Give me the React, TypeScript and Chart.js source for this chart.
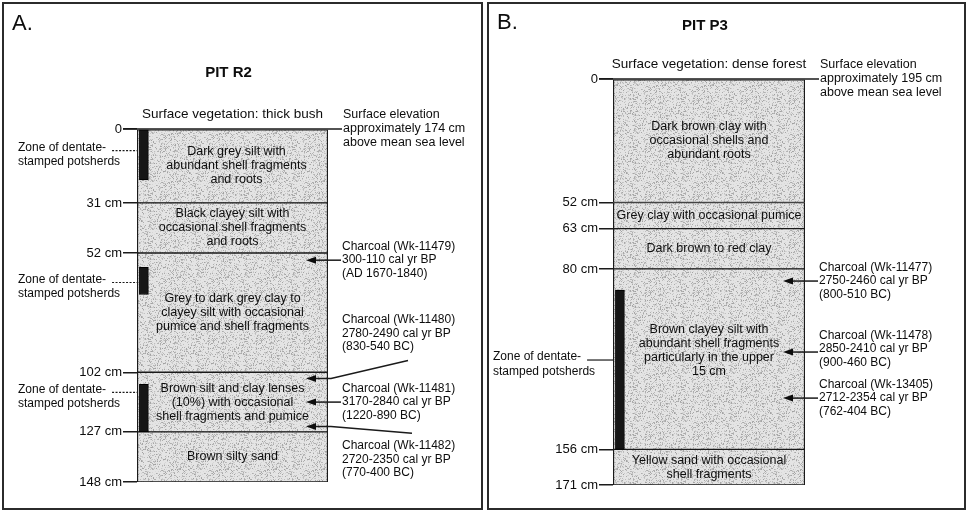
import React, { useEffect, useRef } from 'react';
import { Chart, registerables } from 'chart.js';

Chart.register(...registerables);

const FONT = '"Liberation Sans", Arial, Helvetica, sans-serif';
Chart.defaults.font.family = FONT;

// ---------------- Panel A : Pit R2 ----------------
const pitA = 'PIT R2';
const vegetationA = 'thick bush';
const elevationA = 174;
const boundariesA = [0, 31, 52, 102, 127, 148];
const layerTextA = [
  'Dark grey silt with\nabundant shell fragments\nand roots',
  'Black clayey silt with\noccasional shell fragments\nand roots',
  'Grey to dark grey clay to\nclayey silt with occasional\npumice and shell fragments',
  'Brown silt and clay lenses\n(10%) with occasional\nshell fragments and pumice',
  'Brown silty sand',
];
const potsherdTopA = [0, 58, 107];
const potsherdBottomA = [21.4, 69.4, 127];
const sampleIdA = ['Wk-11479', 'Wk-11480', 'Wk-11481', 'Wk-11482'];
const calBPA = ['300-110', '2780-2490', '3170-2840', '2720-2350'];
const calendarA = ['AD 1670-1840', '830-540 BC', '1220-890 BC', '770-400 BC'];
const sampleDepthA = [55, 104.6, 114.5, 124.7];

// ---------------- Panel B : Pit P3 ----------------
const pitB = 'PIT P3';
const vegetationB = 'dense forest';
const elevationB = 195;
const boundariesB = [0, 52, 63, 80, 156, 171];
const layerTextB = [
  'Dark brown clay with\noccasional shells and\nabundant roots',
  'Grey clay with occasional pumice',
  'Dark brown to red clay',
  'Brown clayey silt with\nabundant shell fragments\nparticularly in the upper\n15 cm',
  'Yellow sand with occasional\nshell fragments',
];
const potsherdTopB = [88.9];
const potsherdBottomB = [156];
const sampleIdB = ['Wk-11477', 'Wk-11478', 'Wk-13405'];
const calBPB = ['2750-2460', '2850-2410', '2712-2354'];
const calendarB = ['800-510 BC', '900-460 BC', '762-404 BC'];
const sampleDepthB = [85.1, 115, 134.4];

// ---------------- layout / style (not data) ----------------
const ZONE_X = 3.6; // position of potsherd strip inside column (% of width)

const layoutA = {
  width: 485,
  left: 0,
  padding: { left: 17, right: 157, top: 129, bottom: 30 },
  frame: [3, 3, 479, 506],
  letter: 'A.',
  letterPos: [12, 30],
  titleY: 73,
  textShift: [0, 0, 0, 0, 0],
  textDx: [4, 0, 0, 0, 0],
  zoneLabelDepth: [7.8, 63.1, 109.2],
  zoneLabelInset: 119,
  dashedLeader: true,
  sampleTextDepth: [null, 85.7, null, 138.6] as (number | null)[],
  sampleTail: [null, { dx: 80, depth: 97.1 }, null, { dx: 84, depth: 127.6 }] as ({ dx: number; depth: number } | null)[],
};

const layoutB = {
  width: 486,
  left: 485,
  padding: { left: 8, right: 166, top: 79, bottom: 27 },
  frame: [3, 3, 477, 506],
  letter: 'B.',
  letterPos: [12, 29],
  titleY: 26,
  textShift: [0, 0, 0, -9, 0],
  textDx: [0, 0, 0, 0, 0],
  zoneLabelDepth: [117.1],
  zoneLabelInset: 120,
  dashedLeader: false,
  sampleTextDepth: [null, 113.7, null] as (number | null)[],
  sampleTail: [null, null, null] as ({ dx: number; depth: number } | null)[],
};

type Panel = {
  key: string;
  pit: string;
  vegetation: string;
  elevation: number;
  boundaries: number[];
  layerText: string[];
  zoneTop: number[];
  zoneBottom: number[];
  sampleId: string[];
  calBP: string[];
  calendar: string[];
  sampleDepth: number[];
  layout: typeof layoutA;
};

const panelA: Panel = {
  key: 'A', pit: pitA, vegetation: vegetationA, elevation: elevationA,
  boundaries: boundariesA, layerText: layerTextA,
  zoneTop: potsherdTopA, zoneBottom: potsherdBottomA,
  sampleId: sampleIdA, calBP: calBPA, calendar: calendarA, sampleDepth: sampleDepthA,
  layout: layoutA,
};
const panelB: Panel = {
  key: 'B', pit: pitB, vegetation: vegetationB, elevation: elevationB,
  boundaries: boundariesB, layerText: layerTextB,
  zoneTop: potsherdTopB, zoneBottom: potsherdBottomB,
  sampleId: sampleIdB, calBP: calBPB, calendar: calendarB, sampleDepth: sampleDepthB,
  layout: layoutB,
};

function makeSpeckle(): CanvasPattern | string {
  const c = document.createElement('canvas');
  c.width = 48;
  c.height = 48;
  const g = c.getContext('2d');
  if (!g) return '#dcdcdc';
  g.fillStyle = '#e4e4e4';
  g.fillRect(0, 0, 48, 48);
  let s = 987654321;
  const next = () => {
    s = (s * 1103515245 + 12345) % 2147483648;
    return s / 2147483648;
  };
  for (let i = 0; i < 900; i++) {
    const x = Math.floor(next() * 48);
    const y = Math.floor(next() * 48);
    const v = 160 + Math.floor(next() * 60);
    g.fillStyle = `rgb(${v},${v},${v})`;
    g.fillRect(x, y, 1, 1);
  }
  return g.createPattern(c, 'repeat') || '#dcdcdc';
}

function decorPlugin(p: Panel) {
  const L = p.layout;
  return {
    id: 'decor' + p.key,
    beforeDraw(chart: any) {
      const ctx = chart.ctx as CanvasRenderingContext2D;
      const ca = chart.chartArea;
      const cx = (ca.left + ca.right) / 2;
      ctx.save();
      ctx.fillStyle = '#ffffff';
      ctx.fillRect(0, 0, chart.width, chart.height);
      ctx.strokeStyle = '#2b2b2b';
      ctx.lineWidth = 2;
      ctx.strokeRect(L.frame[0], L.frame[1], L.frame[2], L.frame[3]);
      ctx.fillStyle = '#0d0d0d';
      ctx.font = `22px ${FONT}`;
      ctx.textAlign = 'left';
      ctx.textBaseline = 'alphabetic';
      ctx.fillText(L.letter, L.letterPos[0], L.letterPos[1]);
      ctx.font = `bold 15px ${FONT}`;
      ctx.textAlign = 'center';
      ctx.textBaseline = 'middle';
      ctx.fillText(p.pit, cx - 4, L.titleY);
      ctx.restore();
    },
    afterDatasetsDraw(chart: any) {
      const ctx = chart.ctx as CanvasRenderingContext2D;
      const ys = chart.scales.y;
      const ca = chart.chartArea;
      const cx = (ca.left + ca.right) / 2;
      const y0 = ys.getPixelForValue(0);
      ctx.save();
      ctx.strokeStyle = '#1a1a1a';
      ctx.fillStyle = '#0d0d0d';
      ctx.lineWidth = 1.5;
      // surface line
      ctx.beginPath();
      ctx.moveTo(ca.left - 14, y0);
      ctx.lineTo(ca.right + 14, y0);
      ctx.stroke();
      ctx.textBaseline = 'middle';
      ctx.textAlign = 'center';
      ctx.font = `13.5px ${FONT}`;
      ctx.fillText(`Surface vegetation: ${p.vegetation}`, cx, y0 - 15);
      ctx.textAlign = 'left';
      ctx.font = `12.5px ${FONT}`;
      const ex = ca.right + 15;
      ['Surface elevation', `approximately ${p.elevation} cm`, 'above mean sea level'].forEach((t, i) =>
        ctx.fillText(t, ex, y0 + (i - 1) * 14)
      );
      // layer descriptions
      ctx.textAlign = 'center';
      p.layerText.forEach((txt, i) => {
        const yt = ys.getPixelForValue(p.boundaries[i]);
        const yb = ys.getPixelForValue(p.boundaries[i + 1]);
        const lines = txt.split('\n');
        const mid = (yt + yb) / 2 + (L.textShift[i] || 0);
        lines.forEach((l, j) =>
          ctx.fillText(l, cx + (L.textDx[i] || 0), mid + (j - (lines.length - 1) / 2) * 14)
        );
      });
      // potsherd zone labels
      ctx.textAlign = 'left';
      ctx.font = `12px ${FONT}`;
      p.zoneTop.forEach((_, i) => {
        const fy = ys.getPixelForValue(L.zoneLabelDepth[i]);
        const lx = ca.left - L.zoneLabelInset;
        ctx.fillText('Zone of dentate-', lx, fy);
        ctx.fillText('stamped potsherds', lx, fy + 14.5);
        const w = ctx.measureText('Zone of dentate-').width;
        ctx.save();
        ctx.lineWidth = 1.2;
        if (L.dashedLeader) ctx.setLineDash([2, 1.5]);
        ctx.beginPath();
        ctx.moveTo(lx + w + 6, fy + 3);
        ctx.lineTo(ca.left, fy + 3);
        ctx.stroke();
        ctx.restore();
      });
      // charcoal samples
      p.sampleId.forEach((id, i) => {
        const tipY = ys.getPixelForValue(p.sampleDepth[i]);
        const tipX = ca.right - 22;
        const tx = ca.right + 14;
        const td = L.sampleTextDepth[i];
        const midY = td == null ? tipY : ys.getPixelForValue(td);
        [`Charcoal (${id})`, `${p.calBP[i]} cal yr BP`, `(${p.calendar[i]})`].forEach((t, j) =>
          ctx.fillText(t, tx, midY + (j - 1) * 13.5)
        );
        const tail = L.sampleTail[i];
        ctx.beginPath();
        ctx.moveTo(tipX + 8, tipY);
        if (tail) {
          ctx.lineTo(ca.right + 3, tipY);
          ctx.lineTo(ca.right + tail.dx, ys.getPixelForValue(tail.depth));
        } else {
          ctx.lineTo(tx - 1, tipY);
        }
        ctx.stroke();
        ctx.beginPath();
        ctx.moveTo(tipX, tipY);
        ctx.lineTo(tipX + 10, tipY - 3.5);
        ctx.lineTo(tipX + 10, tipY + 3.5);
        ctx.closePath();
        ctx.fill();
      });
      ctx.restore();
    },
  };
}

function buildConfig(p: Panel, pattern: CanvasPattern | string): any {
  const maxDepth = p.boundaries[p.boundaries.length - 1];
  return {
    type: 'bar',
    data: {
      labels: [p.pit],
      datasets: [
        {
          label: 'Zone of dentate-stamped potsherds',
          xAxisID: 'x2',
          order: 0,
          grouped: false,
          data: p.zoneTop.map((t, i) => ({ x: ZONE_X, y: [t, p.zoneBottom[i]] })),
          backgroundColor: '#161616',
          borderColor: '#000',
          borderWidth: 1,
          borderSkipped: false,
          barThickness: 9,
        },
        {
          label: 'Layers',
          xAxisID: 'x',
          order: 1,
          grouped: false,
          data: p.boundaries.slice(0, -1).map((t, i) => ({ x: p.pit, y: [t, p.boundaries[i + 1]] })),
          backgroundColor: pattern,
          borderColor: '#1a1a1a',
          borderWidth: { top: 1, bottom: 1, left: 1.5, right: 1.5 },
          borderSkipped: false,
          barPercentage: 1,
          categoryPercentage: 1,
        },
      ],
    },
    options: {
      responsive: false,
      animation: false,
      devicePixelRatio: 1,
      events: [],
      layout: { padding: p.layout.padding },
      plugins: {
        legend: { display: false },
        tooltip: { enabled: false },
        title: { display: false },
      },
      scales: {
        x: { type: 'category', display: false, offset: true },
        x2: { type: 'linear', display: false, min: 0, max: 100, offset: false },
        y: {
          type: 'linear',
          reverse: true,
          min: 0,
          max: maxDepth,
          afterBuildTicks: (s: any) => {
            s.ticks = p.boundaries.map((v) => ({ value: v }));
          },
          afterFit: (s: any) => {
            s.width = 120;
          },
          ticks: {
            autoSkip: false,
            padding: 1,
            color: '#0d0d0d',
            font: { family: FONT, size: 13 },
            callback: (v: any) => (Number(v) === 0 ? '0' : `${v} cm`),
          },
          grid: {
            drawOnChartArea: false,
            drawTicks: true,
            tickLength: 14,
            color: '#1a1a1a',
            lineWidth: 1.5,
          },
          border: { display: false },
        },
      },
    },
    plugins: [decorPlugin(p)],
  };
}

export default function App() {
  const refA = useRef<HTMLCanvasElement>(null);
  const refB = useRef<HTMLCanvasElement>(null);

  useEffect(() => {
    const pattern = makeSpeckle();
    const a = new Chart(refA.current as HTMLCanvasElement, buildConfig(panelA, pattern));
    const b = new Chart(refB.current as HTMLCanvasElement, buildConfig(panelB, pattern));
    return () => {
      a.destroy();
      b.destroy();
    };
  }, []);

  return (
    <div style={{ position: 'absolute', left: 0, top: 0, width: 971, height: 512, background: '#fff' }}>
      <canvas
        ref={refA}
        width={layoutA.width}
        height={512}
        style={{ position: 'absolute', left: layoutA.left, top: 0, display: 'block' }}
      />
      <canvas
        ref={refB}
        width={layoutB.width}
        height={512}
        style={{ position: 'absolute', left: layoutB.left, top: 0, display: 'block' }}
      />
    </div>
  );
}
